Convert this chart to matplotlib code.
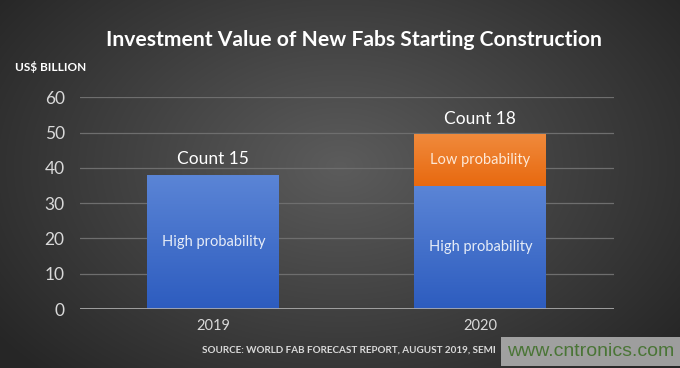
import numpy as np
import matplotlib
matplotlib.use("Agg")
import matplotlib.pyplot as plt
from matplotlib.colors import LinearSegmentedColormap

years = ["2019", "2020"]
high_prob = [38, 35]
low_prob = [0, 14.5]
counts = ["Count 15", "Count 18"]
yticks = [0, 10, 20, 30, 40, 50, 60]

plt.rcParams['font.family'] = ['Lato', 'DejaVu Sans']

fig = plt.figure(figsize=(6.8, 3.68), dpi=100)

# radial dark background
H, W = 368, 680
yy, xx = np.mgrid[0:H, 0:W]
r = np.sqrt(((xx - W * 0.5) / (W * 0.6)) ** 2 + ((yy - H * 0.45) / (H * 0.75)) ** 2)
v = np.clip(0.36 - 0.2 * r, 0.15, 0.4)
bg = np.dstack([v, v, v])
bgax = fig.add_axes([0, 0, 1, 1], zorder=0)
bgax.imshow(bg, aspect='auto', extent=[0, 1, 0, 1])
bgax.axis('off')

ax = fig.add_axes([0.1176, 0.1603, 0.785, 0.5753], zorder=1)
ax.patch.set_alpha(0)
x = np.arange(len(years))
w = 0.494
b1 = ax.bar(x, high_prob, width=w, color='#3f6fcc', zorder=3)
b2 = ax.bar(x, low_prob, width=w, bottom=high_prob, color='#f07b22', zorder=3)

blue_cm = LinearSegmentedColormap.from_list('b', ['#2d5cbf', '#5b85d6'])
orange_cm = LinearSegmentedColormap.from_list('o', ['#e8690f', '#f08a3c'])
grad = np.linspace(0, 1, 256).reshape(-1, 1)
for bars, cm in ((b1, blue_cm), (b2, orange_cm)):
    for p in bars:
        if p.get_height() <= 0:
            continue
        x0, y0 = p.get_x(), p.get_y()
        im = ax.imshow(grad, cmap=cm, origin='lower', aspect='auto',
                       extent=[x0, x0 + p.get_width(), y0, y0 + p.get_height()], zorder=3.5)
        im.set_clip_path(p)
ax.set_xlim(-0.5, 1.5)
ax.set_ylim(0, 60)

ax.set_yticks(yticks)
ax.set_xticks(x)
ax.set_xticklabels(years)
ax.tick_params(axis='both', length=0, colors='#d9d9d9', labelsize=12.5)
ax.tick_params(axis='y', pad=11)
ax.tick_params(axis='x', pad=7, labelsize=10.5)
for s in ax.spines.values():
    s.set_visible(False)
ax.grid(axis='y', color='#6e6e6e', linewidth=0.9, zorder=1)
ax.axhline(0, color='#b0b0b0', linewidth=1.2, zorder=4)

for i in range(len(years)):
    ax.text(x[i], high_prob[i] / 2, "High probability", ha='center', va='center',
            color='#e6ecf7', fontsize=10.5, zorder=5)
    if low_prob[i] > 0:
        ax.text(x[i], high_prob[i] + low_prob[i] / 2, "Low probability", ha='center',
                va='center', color='#fde8d6', fontsize=10.5, zorder=5)
    top = high_prob[i] + low_prob[i]
    ax.text(x[i], top + 2.2, counts[i], ha='center', va='bottom', color='white',
            fontsize=12.5, zorder=5)

fig.text(0.52, 0.89, "Investment Value of New Fabs Starting Construction", ha='center',
         va='center', color='white', fontsize=15.2, fontweight='bold')
fig.text(0.022, 0.818, "US$ BILLION", ha='left', va='center', color='white',
         fontsize=8.5, fontweight='bold')
fig.text(0.5125, 0.048, "SOURCE: WORLD FAB FORECAST REPORT, AUGUST 2019, SEMI", ha='center',
         va='center', color='#d9d9d9', fontsize=7.1, fontweight='bold', zorder=10)
fig.text(0.868, 0.045, "www.cntronics.com", ha='center', va='center', color='#4a7536',
         fontsize=14, family=['Liberation Sans', 'DejaVu Sans'],
         bbox=dict(boxstyle='square,pad=0.3', facecolor='#d0d0d0', edgecolor='none', alpha=0.7))

fig.savefig("out.png", dpi=100)
